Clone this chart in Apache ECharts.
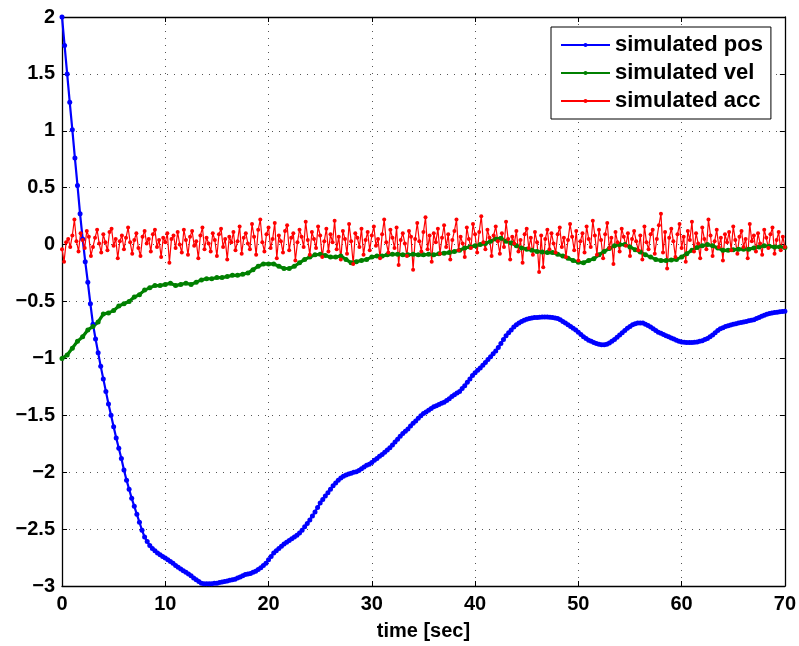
<!DOCTYPE html>
<html>
<head>
<meta charset="utf-8">
<script src="https://cdn.jsdelivr.net/npm/echarts@6/dist/echarts.min.js"></script>
<style>html,body{margin:0;padding:0;background:#fff}#c{width:799px;height:646px}</style>
</head>
<body>
<div id="c"></div>
<script>
// sampling steps (seconds) for each series
const posStep = 0.25;
const velStep = 0.5;
const accStep = 0.2;

const seriesNames = ['simulated pos', 'simulated vel', 'simulated acc'];
const xTicks = [0, 10, 20, 30, 40, 50, 60, 70];
const yTicks = [-3, -2.5, -2, -1.5, -1, -0.5, 0, 0.5, 1, 1.5, 2];

const posValues = [
2.00,1.75,1.50,1.25,1.01,0.76,0.52,0.27,
0.05,-0.15,-0.33,-0.52,-0.70,-0.83,-0.95,-1.07,
-1.18,-1.29,-1.40,-1.50,-1.60,-1.70,-1.79,-1.88,
-1.98,-2.07,-2.15,-2.23,-2.30,-2.37,-2.44,-2.51,
-2.57,-2.61,-2.645,-2.67,-2.69,-2.71,-2.725,-2.74,
-2.755,-2.77,-2.785,-2.80,-2.82,-2.835,-2.85,-2.865,
-2.88,-2.895,-2.91,-2.93,-2.945,-2.96,-2.975,-2.98,
-2.98,-2.98,-2.98,-2.975,-2.975,-2.97,-2.965,-2.96,
-2.955,-2.95,-2.945,-2.94,-2.93,-2.92,-2.91,-2.90,
-2.895,-2.89,-2.88,-2.87,-2.855,-2.84,-2.82,-2.80,
-2.77,-2.74,-2.71,-2.69,-2.67,-2.65,-2.63,-2.615,
-2.60,-2.585,-2.57,-2.555,-2.535,-2.51,-2.48,-2.45,
-2.42,-2.385,-2.35,-2.31,-2.27,-2.24,-2.21,-2.18,
-2.15,-2.12,-2.095,-2.07,-2.05,-2.035,-2.025,-2.015,
-2.01,-2.00,-1.995,-1.985,-1.97,-1.955,-1.94,-1.93,
-1.915,-1.895,-1.88,-1.86,-1.845,-1.825,-1.805,-1.785,
-1.76,-1.735,-1.71,-1.685,-1.66,-1.64,-1.62,-1.595,
-1.57,-1.55,-1.525,-1.505,-1.485,-1.47,-1.455,-1.44,
-1.425,-1.415,-1.405,-1.395,-1.385,-1.37,-1.355,-1.335,
-1.32,-1.305,-1.29,-1.265,-1.24,-1.21,-1.18,-1.15,
-1.125,-1.105,-1.085,-1.06,-1.035,-1.01,-0.985,-0.96,
-0.935,-0.905,-0.87,-0.835,-0.80,-0.775,-0.75,-0.725,
-0.705,-0.69,-0.675,-0.665,-0.655,-0.65,-0.645,-0.64,
-0.64,-0.638,-0.636,-0.636,-0.637,-0.638,-0.64,-0.645,
-0.65,-0.66,-0.675,-0.69,-0.705,-0.72,-0.735,-0.75,
-0.77,-0.79,-0.81,-0.825,-0.84,-0.85,-0.86,-0.87,
-0.875,-0.88,-0.88,-0.875,-0.865,-0.85,-0.835,-0.815,
-0.795,-0.775,-0.755,-0.735,-0.72,-0.705,-0.695,-0.69,
-0.688,-0.69,-0.70,-0.71,-0.725,-0.74,-0.755,-0.77,
-0.78,-0.79,-0.80,-0.81,-0.82,-0.83,-0.84,-0.85,
-0.855,-0.858,-0.86,-0.86,-0.86,-0.858,-0.855,-0.85,
-0.845,-0.835,-0.825,-0.81,-0.795,-0.775,-0.755,-0.74,
-0.73,-0.72,-0.713,-0.707,-0.70,-0.695,-0.69,-0.685,
-0.68,-0.675,-0.67,-0.665,-0.66,-0.65,-0.64,-0.63,
-0.62,-0.612,-0.605,-0.60,-0.597,-0.594,-0.59,-0.587,
-0.585
];

const velValues = [
-1.00,-0.97,-0.91,-0.85,-0.81,-0.75,-0.72,-0.68,-0.61,-0.60,
-0.58,-0.54,-0.52,-0.50,-0.46,-0.44,-0.40,-0.38,-0.36,-0.36,
-0.35,-0.34,-0.36,-0.35,-0.34,-0.35,-0.33,-0.31,-0.30,-0.30,
-0.29,-0.29,-0.28,-0.27,-0.27,-0.26,-0.25,-0.22,-0.19,-0.17,
-0.17,-0.17,-0.19,-0.21,-0.21,-0.19,-0.16,-0.13,-0.11,-0.09,
-0.085,-0.095,-0.11,-0.11,-0.10,-0.13,-0.16,-0.15,-0.14,-0.13,
-0.11,-0.10,-0.10,-0.09,-0.085,-0.085,-0.09,-0.09,-0.085,-0.09,
-0.09,-0.085,-0.09,-0.08,-0.075,-0.07,-0.06,-0.05,-0.03,-0.02,
-0.01,0.00,0.01,0.03,0.05,0.055,0.03,0.015,-0.01,-0.03,
-0.04,-0.05,-0.06,-0.065,-0.07,-0.07,-0.085,-0.10,-0.12,-0.14,
-0.155,-0.16,-0.14,-0.125,-0.09,-0.06,-0.035,-0.01,0.00,0.00,
-0.02,-0.045,-0.065,-0.09,-0.11,-0.13,-0.14,-0.14,-0.135,-0.13,
-0.11,-0.08,-0.05,-0.025,-0.01,0.00,-0.01,-0.03,-0.05,-0.05,
-0.045,-0.04,-0.04,-0.04,-0.03,-0.02,-0.01,-0.015,-0.02,-0.02,
-0.025
];

const accValues = [
-0.04,-0.15,0.02,0.05,-0.02,0.08,0.22,0.03,-0.06,0.10,
0.04,-0.03,0.12,0.07,-0.10,-0.02,0.06,0.13,0.01,-0.07,
0.09,0.02,-0.05,0.11,0.14,-0.01,0.05,-0.12,0.03,0.08,
-0.04,0.06,0.15,0.02,-0.08,0.04,0.10,-0.03,-0.10,0.07,
0.12,0.01,0.05,-0.06,0.09,0.13,-0.02,0.04,-0.11,0.06,
0.02,0.10,-0.16,0.05,0.08,-0.03,0.11,0.00,-0.07,0.13,
0.04,-0.09,0.07,0.12,-0.01,0.03,-0.12,0.08,0.15,-0.04,
0.06,0.01,-0.06,0.10,0.04,-0.10,0.09,0.14,-0.02,0.05,
-0.13,0.07,0.02,0.11,-0.05,0.03,0.16,-0.08,0.06,0.10,
0.01,-0.04,0.18,0.07,-0.09,0.13,0.22,0.02,-0.06,0.09,
0.15,-0.03,0.05,0.19,-0.12,0.08,0.03,-0.07,0.12,0.17,
-0.05,0.06,0.10,-0.14,0.02,0.13,0.07,-0.02,0.20,0.04,
-0.09,0.11,0.05,-0.03,0.16,0.08,-0.11,0.03,0.14,-0.06,
0.09,0.02,0.21,-0.04,0.07,-0.13,0.12,0.05,-0.08,0.18,
0.03,-0.17,0.10,0.06,-0.02,0.14,-0.09,0.04,0.11,-0.05,
0.08,0.16,-0.01,0.05,-0.12,0.09,0.22,0.02,-0.07,0.13,
0.06,-0.03,0.15,-0.18,0.04,0.10,0.01,-0.10,0.12,0.07,
-0.22,0.05,0.19,0.03,-0.06,0.11,0.24,-0.04,0.08,-0.15,
0.10,0.02,0.14,-0.08,0.06,0.17,-0.02,0.09,-0.13,0.04,
0.12,0.22,-0.05,0.07,0.01,-0.11,0.15,0.05,-0.03,0.18,
0.09,-0.07,0.11,0.25,0.02,-0.04,0.13,0.06,-0.10,0.08,
0.16,0.03,-0.08,0.10,-0.02,0.20,0.05,-0.13,0.07,0.01,
0.12,-0.06,0.04,-0.16,0.09,0.14,-0.03,0.06,-0.09,0.11,
0.02,-0.24,0.08,-0.20,0.05,0.13,-0.04,0.10,0.01,-0.07,
0.09,0.15,-0.02,0.06,-0.11,0.04,0.18,0.07,-0.05,0.12,
-0.14,0.03,0.10,-0.07,0.16,0.05,-0.02,0.21,0.08,-0.09,
0.13,0.04,-0.12,0.09,0.19,-0.03,0.06,-0.17,0.11,0.02,
-0.06,0.14,0.07,-0.01,0.10,-0.10,0.05,0.12,0.03,-0.05,
0.08,-0.13,0.16,0.02,-0.04,0.09,0.13,-0.08,0.05,0.17,
0.27,-0.07,0.11,-0.21,0.06,0.14,0.03,-0.11,0.09,0.18,
-0.03,0.07,-0.15,0.12,0.04,0.20,-0.06,0.10,0.01,-0.12,
0.15,0.05,-0.04,0.22,0.08,-0.10,0.03,0.13,-0.02,0.06,
-0.14,0.09,0.02,0.11,-0.05,0.16,0.04,-0.08,0.07,0.12,
-0.02,0.05,-0.12,0.18,0.03,0.08,-0.06,0.10,0.01,-0.09,
0.13,0.06,-0.03,0.09,0.15,-0.08,0.04,0.11,-0.05,0.07,
-0.02
];

function pairs(vals, step) {
  return vals.map((v, i) => [+(i * step).toFixed(3), v]);
}

const FONT = '"Liberation Sans", Arial, Helvetica, sans-serif';
const fmtMinus = v => String(v).replace('-', '\u2212');

const chart = echarts.init(document.getElementById('c'), null, {renderer: 'canvas'});

const axisLineStyle = {color: '#000', width: 1.3};
const gridLine = {show: true, lineStyle: {color: '#555', type: [1, 6], width: 1}};

chart.setOption({
  animation: false,
  backgroundColor: '#fff',
  grid: {left: 62, right: 12, top: 17, bottom: 58, containLabel: false},
  legend: {
    orient: 'vertical',
    left: 551,
    top: 27,
    data: seriesNames,
    backgroundColor: '#fff',
    borderColor: '#000',
    borderWidth: 1,
    padding: [7, 8, 7, 9],
    itemWidth: 49,
    itemHeight: 5,
    itemGap: 6,
    itemStyle: {borderWidth: 0},
    textStyle: {fontFamily: FONT, fontWeight: 'bold', fontSize: 22, color: '#000', lineHeight: 22}
  },
  xAxis: [{
    type: 'value', min: 0, max: 70, interval: 10,
    name: 'time [sec]', nameLocation: 'middle', nameGap: 35,
    nameTextStyle: {fontFamily: FONT, fontWeight: 'bold', fontSize: 20, color: '#000'},
    axisLine: {show: true, onZero: false, lineStyle: axisLineStyle},
    axisTick: {show: true, inside: true, length: 5, lineStyle: {color: '#000'}},
    axisLabel: {fontFamily: FONT, fontWeight: 'bold', fontSize: 20, color: '#000', margin: 8,
      formatter: v => xTicks.includes(v) ? fmtMinus(v) : ''},
    splitLine: gridLine
  }, {
    type: 'value', min: 0, max: 70, interval: 10, position: 'top',
    axisLine: {show: true, onZero: false, lineStyle: axisLineStyle},
    axisTick: {show: true, inside: true, length: 5, lineStyle: {color: '#000'}},
    axisLabel: {show: false}, splitLine: {show: false}
  }],
  yAxis: [{
    type: 'value', min: -3, max: 2, interval: 0.5,
    axisLine: {show: true, onZero: false, lineStyle: axisLineStyle},
    axisTick: {show: true, inside: true, length: 5, lineStyle: {color: '#000'}},
    axisLabel: {fontFamily: FONT, fontWeight: 'bold', fontSize: 20, color: '#000', margin: 7,
      formatter: v => yTicks.includes(v) ? fmtMinus(v) : ''},
    splitLine: gridLine
  }, {
    type: 'value', min: -3, max: 2, interval: 0.5, position: 'right',
    axisLine: {show: true, onZero: false, lineStyle: axisLineStyle},
    axisTick: {show: true, inside: true, length: 5, lineStyle: {color: '#000'}},
    axisLabel: {show: false}, splitLine: {show: false}
  }],
  series: [
    {
      name: seriesNames[0], type: 'line', data: pairs(posValues, posStep),
      xAxisIndex: 0, yAxisIndex: 0,
      color: '#0000ff', symbol: 'circle', symbolSize: 5, showAllSymbol: true,
      lineStyle: {width: 2.2, color: '#0000ff'}, itemStyle: {color: '#0000ff'}
    },
    {
      name: seriesNames[1], type: 'line', data: pairs(velValues, velStep),
      xAxisIndex: 0, yAxisIndex: 0,
      color: '#008000', symbol: 'circle', symbolSize: 5, showAllSymbol: true,
      lineStyle: {width: 3.2, color: '#008000'}, itemStyle: {color: '#008000'}
    },
    {
      name: seriesNames[2], type: 'line', data: pairs(accValues, accStep),
      xAxisIndex: 0, yAxisIndex: 0,
      color: '#ff0000', symbol: 'circle', symbolSize: 4, showAllSymbol: true,
      lineStyle: {width: 1.2, color: '#ff0000'}, itemStyle: {color: '#ff0000'}
    }
  ]
});
</script>
</body>
</html>
